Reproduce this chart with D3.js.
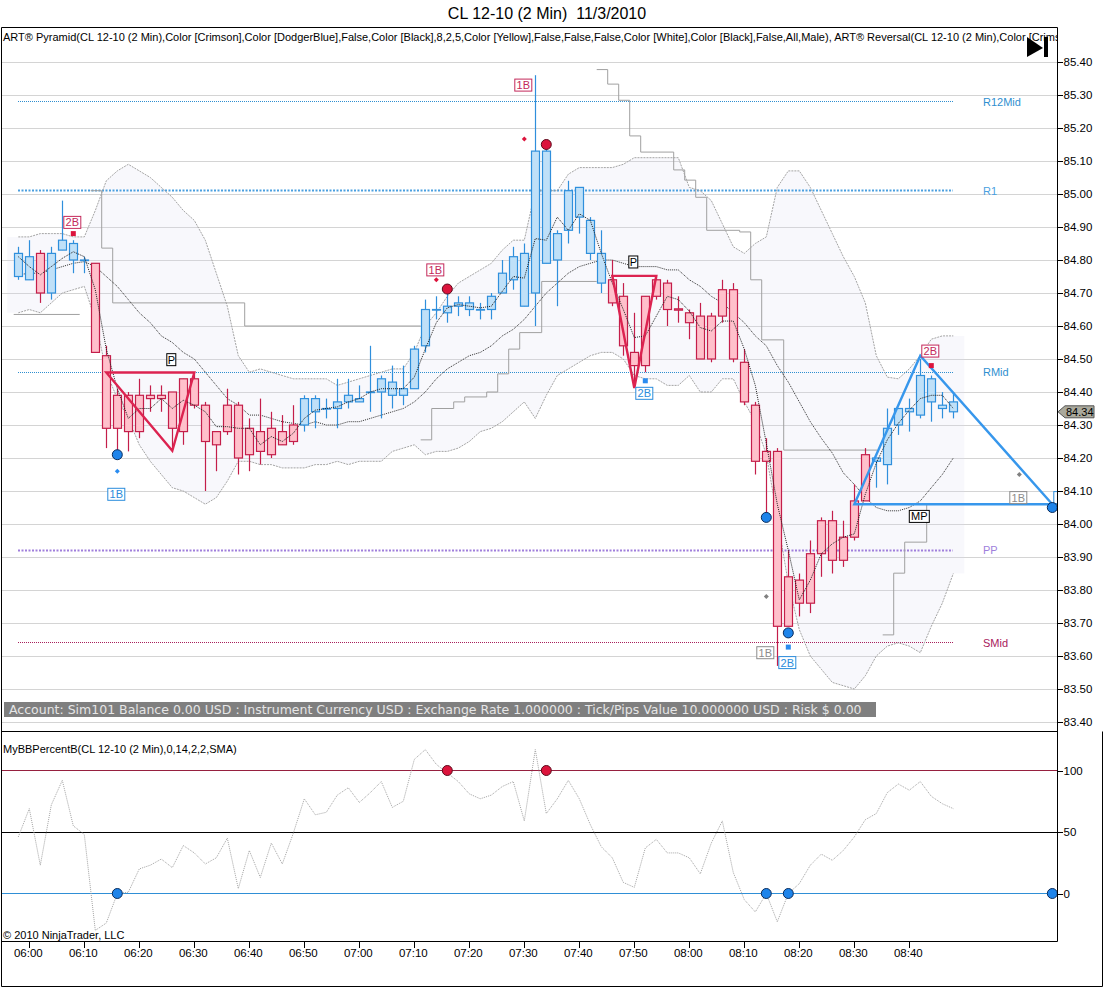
<!DOCTYPE html>
<meta charset='utf-8'>
<style>
html, body { margin: 0; padding: 0; background: #fff; }
svg { display: block; }
text { font-family: 'Liberation Sans', Arial, sans-serif; font-size: 11px; fill: #000; }
.axis path, .axis line { stroke: #000; shape-rendering: crispEdges; }
.axis text { font-size: 11.5px; }
</style>
<body>
<div id='container'></div>
<script src='https://d3js.org/d3.v7.min.js'></script>
<script>

// candles, 05:58 to 08:48, one bar every 2 minutes
var opens = [84.75,84.74,84.82,84.70,84.83,84.80,84.80,84.79,84.51,84.39,84.39,84.39,84.39,84.39,84.40,84.44,84.44,84.36,84.28,84.36,84.36,84.29,84.28,84.29,84.28,84.30,
  84.30,84.34,84.35,84.35,84.37,84.37,84.40,84.40,84.39,84.39,84.41,84.54,84.65,84.64,84.66,84.65,84.65,84.65,84.70,84.74,84.66,84.70,84.79,84.80,84.89,84.93,84.82,84.73,
  84.74,84.69,84.52,84.69,84.74,84.73,84.652,84.64,84.63,84.63,84.71,84.71,84.49,84.36,84.22,84.22,83.84,83.83,83.91,84.01,84.01,83.96,84.07,84.21,
  84.19,84.18,84.30,84.34,84.33,84.37,84.35,84.34];
var highs = [84.84,84.86,84.83,84.84,84.98,84.86,84.81,84.79,84.54,84.41,84.40,84.44,84.42,84.42,84.40,84.44,84.46,84.37,84.28,84.41,84.37,84.32,84.38,84.34,84.33,84.36,
  84.39,84.39,84.38,84.44,84.44,84.42,84.54,84.45,84.48,84.48,84.54,84.68,84.69,84.70,84.69,84.69,84.67,84.70,84.80,84.84,84.85,85.36,85.14,84.89,85.04,85.02,84.93,84.89,
  84.80,84.73,84.64,84.69,84.75,84.74,84.69,84.65,84.67,84.64,84.74,84.73,84.53,84.37,84.26,84.23,83.92,83.85,83.95,84.02,84.04,84.01,84.12,84.23,
  84.20,84.35,84.35,84.38,84.50,84.45,84.40,84.40];
var lows = [84.74,84.74,84.67,84.68,84.83,84.76,84.76,84.52,84.23,84.22,84.22,84.26,84.34,84.34,84.23,84.24,84.35,84.10,84.16,84.27,84.15,84.16,84.18,84.20,84.24,84.24,
  84.28,84.29,84.32,84.29,84.35,84.37,84.34,84.32,84.35,84.36,84.41,84.52,84.62,84.61,84.63,84.63,84.62,84.62,84.70,84.71,84.66,84.60,84.79,84.66,84.85,84.88,84.80,84.70,
  84.66,84.51,84.42,84.46,84.68,84.60,84.61,84.56,84.50,84.49,84.61,84.49,84.36,84.15,84.02,83.57,83.69,83.72,83.73,83.84,83.85,83.87,83.95,84.07,
  84.11,84.12,84.27,84.28,84.32,84.31,84.32,84.32];
var closes = [84.82,84.81,84.70,84.82,84.86,84.85,84.80,84.52,84.29,84.29,84.28,84.28,84.38,84.38,84.29,84.28,84.36,84.25,84.24,84.28,84.20,84.21,84.22,84.21,84.24,84.25,
  84.38,84.38,84.35,84.37,84.39,84.38,84.40,84.44,84.43,84.41,84.53,84.65,84.65,84.66,84.67,84.67,84.65,84.69,84.76,84.81,84.82,85.13,85.13,84.88,85.01,85.02,84.92,84.82,
  84.67,84.54,84.48,84.48,84.69,84.65,84.648,84.61,84.50,84.50,84.63,84.50,84.37,84.19,84.19,83.69,83.69,83.76,83.76,83.91,83.89,83.89,83.96,84.07,
  84.20,84.29,84.35,84.35,84.45,84.44,84.36,84.37];
var lastPrice = 84.34;

// bollinger bands and the fast average
var upperBand = [84.87,84.87,84.88,84.88,84.88,84.87,84.87,84.95,85.04,85.07,85.09,85.07,85.05,85.02,84.99,84.95,84.92,84.86,84.76,84.66,84.51,84.46,84.47,84.46,84.45,84.44,
  84.44,84.44,84.44,84.42,84.43,84.44,84.45,84.46,84.47,84.47,84.52,84.60,84.64,84.69,84.73,84.75,84.77,84.79,84.83,84.86,84.86,85.01,85.01,85.01,85.06,85.08,85.08,85.08,
  85.08,85.09,85.11,85.11,85.11,85.11,85.11,85.02,85.01,84.98,84.91,84.84,84.82,84.85,84.87,85.02,85.07,85.07,85.02,84.95,84.88,84.81,84.75,84.67,
  84.51,84.445,84.44,84.47,84.51,84.56,84.57,84.57];
var lowerBand = [84.64,84.65,84.64,84.67,84.70,84.71,84.72,84.62,84.46,84.38,84.32,84.24,84.19,84.15,84.11,84.10,84.08,84.06,84.08,84.13,84.19,84.19,84.18,84.18,84.17,84.17,
  84.17,84.18,84.18,84.19,84.18,84.19,84.19,84.19,84.22,84.23,84.24,84.21,84.22,84.22,84.23,84.25,84.28,84.29,84.31,84.34,84.37,84.32,84.39,84.45,84.47,84.49,84.51,84.52,
  84.52,84.50,84.45,84.44,84.44,84.42,84.42,84.45,84.40,84.40,84.44,84.44,84.37,84.31,84.21,84.02,83.82,83.68,83.60,83.56,83.52,83.51,83.50,83.54,
  83.60,83.63,83.64,83.63,83.61,83.69,83.76,83.85];
var middleBand = [84.755,84.76,84.76,84.77,84.78,84.79,84.795,84.78,84.75,84.72,84.68,84.64,84.61,84.57,84.55,84.52,84.50,84.46,84.42,84.38,84.36,84.33,84.33,84.32,84.31,84.305,
  84.30,84.31,84.30,84.30,84.31,84.31,84.32,84.33,84.34,84.35,84.37,84.40,84.44,84.47,84.49,84.51,84.52,84.54,84.57,84.59,84.62,84.66,84.70,84.73,84.76,84.78,84.79,84.80,
  84.80,84.79,84.78,84.78,84.78,84.77,84.77,84.74,84.72,84.69,84.67,84.64,84.61,84.57,84.54,84.48,84.43,84.37,84.31,84.26,84.215,84.155,84.12,84.08,
  84.05,84.04,84.04,84.05,84.07,84.11,84.15,84.20];
var fastLine = [84.81,84.78,84.755,84.78,84.805,84.825,84.81,84.71,84.53,84.41,84.32,84.35,84.35,84.38,84.35,84.375,84.36,84.34,84.295,84.295,84.29,84.29,84.24,84.265,84.25,84.275,
  84.32,84.345,84.35,84.355,84.37,84.38,84.40,84.41,84.41,84.41,84.445,84.53,84.61,84.655,84.665,84.66,84.655,84.66,84.705,84.75,84.745,84.865,84.86,84.93,84.89,84.94,84.92,84.82,
  84.73,84.65,84.565,84.57,84.63,84.69,84.68,84.645,84.595,84.585,84.615,84.615,84.53,84.42,84.245,84.06,83.92,83.77,83.83,83.91,83.94,83.96,83.97,84.09,
  84.185,84.255,84.305,84.345,84.38,84.39,84.39,84.35];

// stepped stop line: bar where a level starts, null = line lifts
var stopBars =   [-1,5,5,6,7,8,20,36,36,36,37,39,40,42,43,44,45,47,52,52,52,53,54,55,56,59,60,61,62,65,66,67,69,77.5,77.5,78,79,80,82];
var stopLevels = [84.635,84.635,null,85.01,84.836,84.67,84.60,84.60,null,84.255,84.35,84.37,84.385,84.40,84.455,84.53,84.58,84.735,84.735,null,85.377,85.333,85.284,85.176,85.127,85.073,85.042,84.99,84.89,84.885,84.74,84.558,84.224,84.224,null,83.664,83.851,83.945,84.06];

// pivots
var pivotNames = ['R12Mid', 'R1', 'RMid', 'PP', 'SMid'];
var pivotValues = [85.28, 85.01, 84.46, 83.92, 83.64];
var pivotColors = ['#2f8fd0', '#4a9fe0', '#2f8fd0', '#a07fdc', '#a8205c'];
var pivotWide = [false, true, false, true, false];

// pattern triangles, as bar and price
var triangleBars = [[8, 16, 14], [54, 58, 56], [76, 82, 94]];
var trianglePrices = [[84.459, 84.459, 84.222], [84.752, 84.752, 84.412], [84.06, 84.51, 84.06]];
var triangleColors = ['#dc2350', '#dc2350', '#3797ec'];

// signals
var dotBars = [9, 39, 48, 68, 70, 94];
var dotPrices = [84.21, 84.712, 85.15, 84.02, 83.67, 84.05];
var dotColors = ['blue', 'red', 'red', 'blue', 'blue', 'blue'];
var diamondBars = [38, 46, 9, 68, 91];
var diamondPrices = [84.74, 85.167, 84.16, 83.78, 84.15];
var diamondColors = ['#dc143c', '#dc143c', '#2a8cf0', '#808080', '#808080'];
var squareBars = [5, 57, 83, 70];
var squarePrices = [84.88, 84.434, 84.48, 83.627];
var squareColors = ['#dc143c', '#2a8cf0', '#dc143c', '#2a8cf0'];

var tagTexts = ['2B', '1B', 'P', '1B', '1B', 'P', '2B', '2B', '1B', 'MP', '1B', '2B', ''];
var tagBars = [5, 9, 14, 38, 46, 56, 57, 83, 91, 82, 68, 70, 95];
var tagPrices = [84.914, 84.09, 84.498, 84.77, 85.33, 84.794, 84.396, 84.524, 84.08, 84.023, 83.61, 83.58, 84.08];
var tagColors = ['#c4285a', '#2a8cdc', '#000', '#c4285a', '#c4285a', '#000', '#2a8cdc', '#c4285a', '#8c8c8c', '#000', '#8c8c8c', '#2a8cdc', '#2a8cdc'];

// lower panel
var percentB = [46,69,23,72,92,55,48,-30,-24,0,1,20,23,28,21,39,33,24,29,45,4,35,13,41,24,49,
  77,64,66,80,86,74,82,91,70,75,109,117,105,98,91,81,77,80,87,91,59,117,65,77,92,77,56,38,
  29,9,5,37,44,33,33,29,16,41,59,17,-5,-15,0,-23,0,8,23,32,27,35,46,60,65,82,89,84,91,79,73,69];
var percentLevels = [100, 50, 0];
var percentColors = ['#96203f', '#000', '#2f8fd6'];
var percentDotBars = [39, 48, 9, 68, 70, 94];
var percentDotLevels = [100, 100, 0, 0, 0, 0];
var percentDotColors = ['red', 'red', 'blue', 'blue', 'blue', 'blue'];

var priceTicks = d3.range(0, 21).map(function(i) { return +(83.4 + i / 10).toFixed(2); });
var timeLabels = ['06:00','06:10','06:20','06:30','06:40','06:50','07:00','07:10','07:20','07:30','07:40','07:50','08:00','08:10','08:20','08:30','08:40'];
var timeBars = timeLabels.map(function(d, i) { return 1 + i * 5; });

var width = 1104, height = 987, plotRight = 1057;

var x = d3.scaleLinear().domain([0, 85]).range([18.3, 953.3]);
var y = d3.scaleLinear().domain([83.4, 85.4]).range([722, 62]);
var y2 = d3.scaleLinear().domain([0, 100]).range([893.5, 770.5]);

function crisp(v) { return Math.floor(v) + 0.5; }

var svg = d3.select('#container').append('svg')
    .attr('width', width)
    .attr('height', height);

var defs = svg.append('defs');
defs.append('clipPath').attr('id', 'plot').append('rect')
    .attr('x', 0).attr('y', 27).attr('width', plotRight).attr('height', 914);

// titles
svg.append('text').attr('x', 547).attr('y', 18.5).attr('text-anchor', 'middle')
    .style('font-size', '16px').style('white-space', 'pre').text('CL 12-10 (2 Min)  11/3/2010');

// grid
svg.append('g').selectAll('line').data(priceTicks).enter().append('line')
    .attr('x1', 1).attr('x2', plotRight)
    .attr('y1', function(d) { return crisp(y(d)); })
    .attr('y2', function(d) { return crisp(y(d)); })
    .attr('stroke', '#d4d4d4');

var plot = svg.append('g').attr('clip-path', 'url(#plot)');

// band fill runs one bar past both ends
var fillBars = d3.range(-1, 87);
function clampBar(i) { return Math.max(0, Math.min(85, i)); }
plot.append('path')
    .attr('d', d3.area()
      .x(function(d) { return x(d); })
      .y0(function(d) { return y(lowerBand[clampBar(d)]); })
      .y1(function(d) { return y(upperBand[clampBar(d)]); })(fillBars))
    .attr('fill', '#dcdcf0')
    .attr('fill-opacity', 0.2);

// pivot lines
pivotValues.forEach(function(v, i) {
  plot.append('line')
    .attr('x1', 18).attr('x2', 953)
    .attr('y1', crisp(y(v))).attr('y2', crisp(y(v)))
    .attr('stroke', pivotColors[i])
    .attr('stroke-width', pivotWide[i] ? 2 : 1)
    .attr('stroke-dasharray', pivotWide[i] ? '2 1.5' : '1 1');
  svg.append('text')
    .attr('x', 983).attr('y', y(v) + 4)
    .style('fill', pivotColors[i])
    .text(pivotNames[i]);
});

// stop line
var stopLine = d3.line()
    .defined(function(i) { return stopLevels[i] !== null; })
    .x(function(i) { return x(stopBars[i]) + 6.4; })
    .y(function(i) { return y(stopLevels[i]); })
    .curve(d3.curveStepAfter);
plot.append('path')
    .attr('d', stopLine(d3.range(stopBars.length)))
    .attr('fill', 'none')
    .attr('stroke', '#a0a0a0');

// bands
var seriesLine = d3.line()
    .x(function(d, i) { return x(i); })
    .y(function(d) { return y(d); });
[upperBand, lowerBand].forEach(function(s) {
  plot.append('path').attr('d', seriesLine(s))
    .attr('fill', 'none').attr('stroke', '#a4a4a4').attr('stroke-dasharray', '2 1');
});
plot.append('path').attr('d', seriesLine(middleBand))
    .attr('fill', 'none').attr('stroke', '#303030').attr('stroke-dasharray', '1 1');

// candles
var candle = plot.append('g').selectAll('g').data(d3.range(opens.length)).enter().append('g');
function candleStroke(i) { return closes[i] < opens[i] ? '#c41e4a' : '#2f8fdc'; }
candle.append('line')
    .attr('x1', function(i) { return crisp(x(i)); })
    .attr('x2', function(i) { return crisp(x(i)); })
    .attr('y1', function(i) { return y(highs[i]); })
    .attr('y2', function(i) { return y(lows[i]); })
    .attr('stroke', candleStroke)
    .attr('stroke-width', 1.2);
candle.append('rect')
    .attr('x', function(i) { return crisp(x(i)) - 4; })
    .attr('width', 8)
    .attr('y', function(i) { return y(Math.max(opens[i], closes[i])); })
    .attr('height', function(i) { return Math.max(0.6, Math.abs(y(opens[i]) - y(closes[i]))); })
    .attr('fill', function(i) { return closes[i] < opens[i] ? '#ffc0cb' : '#bfe0f8'; })
    .attr('stroke', candleStroke)
    .attr('stroke-width', 1.2);

plot.append('path').attr('d', seriesLine(fastLine))
    .attr('fill', 'none').attr('stroke', '#202020').attr('stroke-dasharray', '1 1');

// triangles
triangleBars.forEach(function(bars, k) {
  var pts = bars.map(function(b, j) { return [x(b), y(trianglePrices[k][j])]; });
  plot.append('polygon')
    .attr('points', pts.join(' '))
    .attr('fill', 'none')
    .attr('stroke', triangleColors[k])
    .attr('stroke-width', 2.4);
});

// small signals
diamondBars.forEach(function(b, i) {
  plot.append('path')
    .attr('d', d3.symbol().type(d3.symbolDiamond2).size(16)())
    .attr('transform', 'translate(' + x(b) + ',' + y(diamondPrices[i]) + ')')
    .attr('fill', diamondColors[i]);
});
squareBars.forEach(function(b, i) {
  plot.append('rect')
    .attr('x', x(b) - 2.5).attr('y', y(squarePrices[i]) - 2.5)
    .attr('width', 5).attr('height', 5)
    .attr('fill', squareColors[i]);
});

// boxed tags
tagTexts.forEach(function(t, i) {
  var w = t ? t.length * 8 + (t == 'MP' ? 4 : 1) : 17, h = 12;
  var g = plot.append('g').attr('transform', 'translate(' + (x(tagBars[i]) - 1) + ',' + y(tagPrices[i]) + ')');
  g.append('rect')
    .attr('x', -w / 2).attr('y', -h / 2).attr('width', w).attr('height', h)
    .attr('fill', '#fff').attr('stroke', tagColors[i]);
  if (t) {
    g.append('text').attr('text-anchor', 'middle').attr('y', 4)
      .style('fill', tagColors[i]).style('font-size', '11px').text(t);
  }
});

var dotFill = { blue: '#1e84ea', red: '#dc143c' };
var dotEdge = { blue: '#0a2c5c', red: '#5c0a1c' };
dotBars.forEach(function(b, i) {
  plot.append('circle').attr('cx', x(b)).attr('cy', y(dotPrices[i])).attr('r', 5)
    .attr('fill', dotFill[dotColors[i]]).attr('stroke', dotEdge[dotColors[i]]);
});

// account line
svg.append('rect').attr('x', 4).attr('y', 702).attr('width', 872).attr('height', 15).attr('fill', '#7f7f7f');
svg.append('text').attr('x', 9).attr('y', 713.5)
    .style('font-family', "'DejaVu Sans', sans-serif").style('font-size', '12.5px').style('fill', '#e6e6e6')
    .text('Account: Sim101 Balance 0.00 USD : Instrument Currency USD : Exchange Rate 1.000000 : Tick/Pips Value 10.000000 USD : Risk $ 0.00');

// indicator caption and the skip arrow
plot.append('text').attr('x', 3).attr('y', 41)
    .text('ART\u00ae Pyramid(CL 12-10 (2 Min),Color [Crimson],Color [DodgerBlue],False,Color [Black],8,2,5,Color [Yellow],False,False,False,Color [White],Color [Black],False,All,Male), ART\u00ae Reversal(CL 12-10 (2 Min),Color [Crimson],Color [DodgerBlue]');
svg.append('polygon').attr('points', '1027,37 1043,48 1027,57').attr('fill', '#000');
svg.append('rect').attr('x', 1044).attr('y', 37).attr('width', 4).attr('height', 20).attr('fill', '#000');

// lower panel
percentLevels.forEach(function(v, i) {
  svg.append('line')
    .attr('x1', 1).attr('x2', plotRight)
    .attr('y1', crisp(y2(v))).attr('y2', crisp(y2(v)))
    .attr('stroke', percentColors[i]);
});
svg.append('path')
    .attr('d', d3.line().x(function(d, i) { return x(i); }).y(function(d) { return y2(d); })(percentB))
    .attr('fill', 'none').attr('stroke', '#a4a4a4').attr('stroke-dasharray', '1 1');
percentDotBars.forEach(function(b, i) {
  svg.append('circle').attr('cx', x(b)).attr('cy', y2(percentDotLevels[i])).attr('r', 5)
    .attr('fill', dotFill[percentDotColors[i]]).attr('stroke', dotEdge[percentDotColors[i]]);
});
svg.append('text').attr('x', 3).attr('y', 753).text('MyBBPercentB(CL 12-10 (2 Min),0,14,2,2,SMA)');
svg.append('text').attr('x', 3).attr('y', 939).text('\u00a9 2010 NinjaTrader, LLC');

// frame
var frame = [[1, 27, plotRight, 27], [1, 731, plotRight, 731], [1, 941, plotRight, 941], [1, 986, 1102, 986], [1, 27, 1, 986], [plotRight, 27, plotRight, 941], [1102, 731, 1102, 986]];
svg.append('g').selectAll('line').data(frame).enter().append('line')
    .attr('x1', function(d) { return d[0] + 0.5; })
    .attr('y1', function(d) { return d[1] + 0.5; })
    .attr('x2', function(d) { return d[2] + 0.5; })
    .attr('y2', function(d) { return d[3] + 0.5; })
    .attr('stroke', '#000');

// axes
var priceAxis = d3.axisRight(y).tickValues(priceTicks).tickFormat(d3.format('.2f')).tickSize(5).tickPadding(1);
svg.append('g').attr('class', 'axis').attr('transform', 'translate(' + (plotRight + 0.5) + ',0)').call(priceAxis)
    .call(function(g) { g.select('.domain').remove(); });

var percentAxis = d3.axisRight(y2).tickValues(percentLevels).tickSize(5).tickPadding(1);
svg.append('g').attr('class', 'axis').attr('transform', 'translate(' + (plotRight + 0.5) + ',0)').call(percentAxis)
    .call(function(g) { g.select('.domain').remove(); });

var timeAxis = d3.axisBottom(x).tickValues(timeBars)
    .tickFormat(function(d, i) { return timeLabels[i]; })
    .tickSize(6).tickPadding(1);
svg.append('g').attr('class', 'axis').attr('transform', 'translate(0,941.5)').call(timeAxis)
    .call(function(g) { g.select('.domain').remove(); g.selectAll('text').attr('dx', -1.5); });

// last price marker
var lastY = y(lastPrice);
svg.append('path')
    .attr('d', d3.line()([[1058, lastY], [1065, lastY - 6], [1094, lastY - 6], [1094, lastY + 6], [1065, lastY + 6]]) + 'Z')
    .attr('fill', '#aaa99c').attr('stroke', '#555');
svg.append('text').attr('x', 1066).attr('y', lastY + 4).style('font-size', '11px').text(lastPrice.toFixed(2));

</script>
</body>
